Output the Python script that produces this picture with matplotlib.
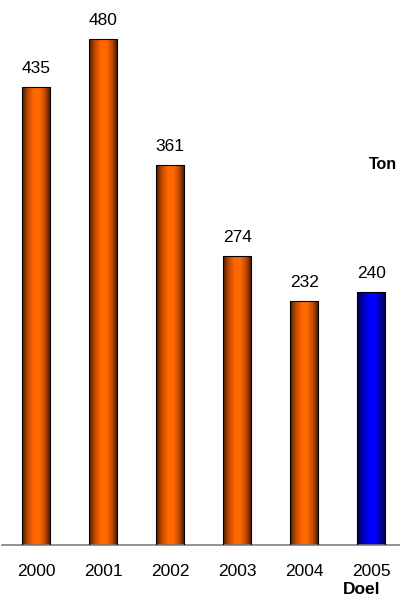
import matplotlib.pyplot as plt
import numpy as np
from matplotlib.colors import LinearSegmentedColormap

plt.rcParams['font.family'] = ['Liberation Sans', 'DejaVu Sans']

years = ['2000', '2001', '2002', '2003', '2004', '2005']
tonnen = [435, 480, 361, 274, 232, 240]
is_doel = [False, False, False, False, False, True]

# horizontal shading for the bars: dark edges, bright middle
oranje = LinearSegmentedColormap.from_list(
    'oranje', ['#4a1a00', '#c04800', '#ff6600', '#ff6a00', '#c04800', '#3a1400'])
blauw = LinearSegmentedColormap.from_list(
    'blauw', ['#000040', '#0000b0', '#0000ff', '#0000ff', '#0000b0', '#000038'])

fig = plt.figure(figsize=(4, 5.98), dpi=100)
ax = fig.add_axes([0.005, 53 / 598, 0.995, 545 / 598])

width = 28 / 67
x = np.arange(len(years))
grad = np.linspace(0, 1, 256).reshape(1, -1)

bars = ax.bar(x, tonnen, width=width, facecolor='none', edgecolor='black', linewidth=0.8, zorder=3)
for xi, val, doel, bar in zip(x, tonnen, is_doel, bars):
    im = ax.imshow(grad, cmap=blauw if doel else oranje, aspect='auto',
                   extent=[xi - width / 2, xi + width / 2, 0, val], zorder=2)
    im.set_clip_path(bar)
    ax.annotate(str(val), (xi, val), xytext=(0, 8), textcoords='offset points',
                ha='center', va='bottom', fontsize=12.5)

ax.set_xlim(-0.507, 5.43)
ax.set_ylim(0, 517.5)

for s in ['left', 'right', 'top']:
    ax.spines[s].set_visible(False)
ax.spines['bottom'].set_color('#808080')
ax.spines['bottom'].set_linewidth(1.2)
ax.set_yticks([])
ax.set_xticks(x)
ax.set_xticklabels(years, fontsize=12.5)
ax.tick_params(axis='x', length=0, pad=14)

fig.text(362 / 400, 1 - 590 / 598, 'Doel', ha='center', va='center',
         fontsize=12.5, fontweight='bold')
fig.text(383 / 400, 1 - 165 / 598, 'Ton', ha='center', va='center',
         fontsize=11.5, fontweight='bold')

fig.savefig('out.png', dpi=100)
